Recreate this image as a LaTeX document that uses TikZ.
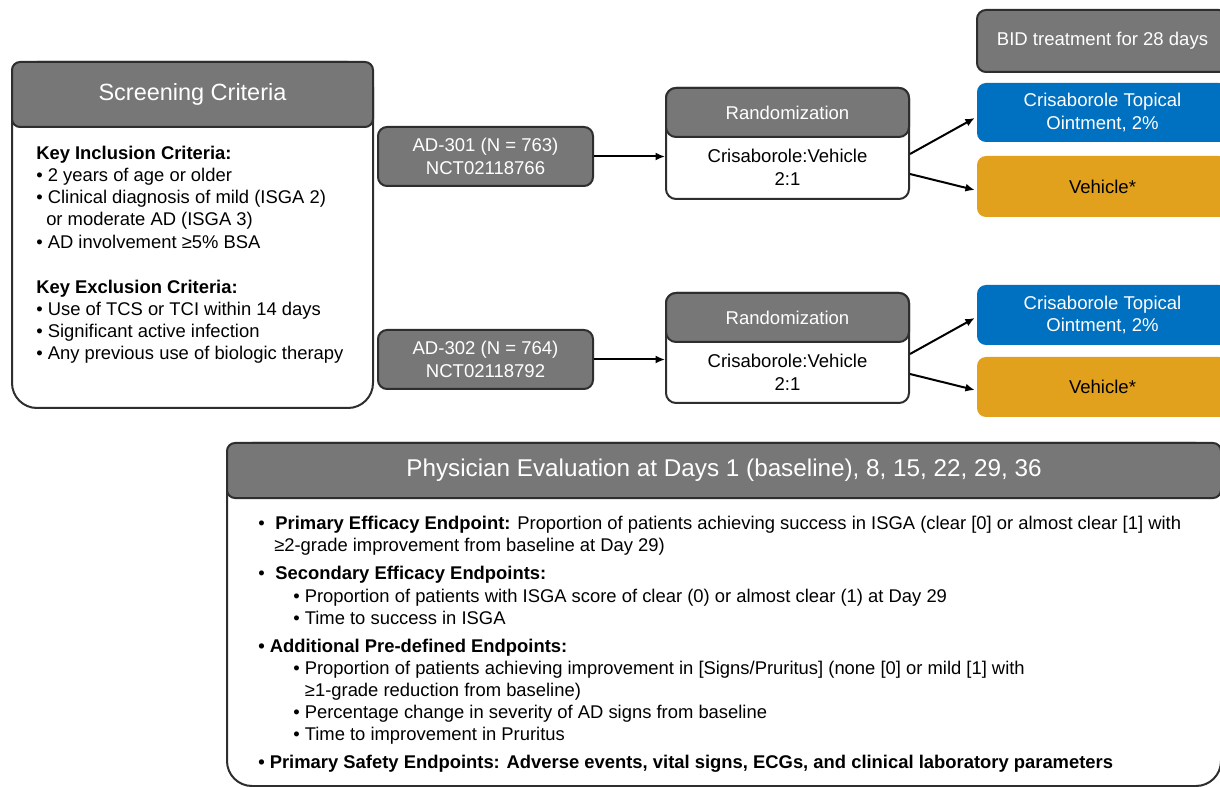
\documentclass[tikz,border=0pt]{standalone}
\usepackage{fontspec}
\setmainfont{Liberation Sans}
\usetikzlibrary{arrows.meta,calc}

% one pixel of the drawing grid
\def\px{*0.75pt}

\definecolor{hdrgray}{HTML}{777777}
\definecolor{edge}{HTML}{2E2E2E}
\definecolor{armblue}{HTML}{0070C0}
\definecolor{armgold}{HTML}{E2A11C}

\newcommand{\txtbody}{\fontsize{13.8pt}{16.6pt}\selectfont}
\newcommand{\txtmid}{\fontsize{13.9pt}{17.2pt}\selectfont}
\newcommand{\txttitle}{\fontsize{17.6pt}{21pt}\selectfont}
\newcommand{\txtbig}{\fontsize{18.2pt}{22pt}\selectfont}

\begin{document}
\begin{tikzpicture}[x=0.75pt,y=-0.75pt,
  panel/.style={draw=edge, line width=1.5pt, fill=white, rounded corners=25\px, inner sep=0pt},
  head/.style={draw=edge, line width=1.5pt, fill=hdrgray, rounded corners=8\px, text=white, inner sep=0pt, align=center},
  arm/.style={rounded corners=9\px, inner sep=0pt, align=center, font=\txtmid},
  link/.style={line width=1.5pt, -{Latex[length=7pt,width=6pt]}},
  words/.style={inner sep=0pt, align=left, anchor=north west}]
\useasboundingbox (0,0) rectangle (1220,787);

% screening criteria panel
\node[panel, minimum width=361\px, minimum height=346\px] (screen) at (192.5,235) {};
\node[head, minimum width=361\px, minimum height=65\px, font=\txttitle] (screenhead) at (192.5,94.5) {Screening Criteria};
\node[words, font=\txtbody] (incl) at (36,146) {\textbf{Key Inclusion Criteria:}\\
• 2 years of age or older\\
• Clinical diagnosis of mild (ISGA 2)\\
\hspace*{7.5pt}or moderate AD (ISGA 3)\\
• AD involvement ≥5\% BSA};
\node[words, font=\txtbody] (excl) at (36,280) {\textbf{Key Exclusion Criteria:}\\
• Use of TCS or TCI within 14 days\\
• Significant active infection\\
• Any previous use of biologic therapy};

% the two studies
\node[head, rounded corners=9\px, minimum width=215\px, minimum height=59\px, font=\txtmid] (ad1) at (485.5,156.5) {AD-301 (N = 763)\\NCT02118766};
\node[head, rounded corners=9\px, minimum width=215\px, minimum height=59\px, font=\txtmid] (ad2) at (485.5,359.5) {AD-302 (N = 764)\\NCT02118792};

% randomization boxes
\node[panel, rounded corners=10\px, minimum width=243\px, minimum height=111\px] (r1) at (787.5,143.5) {};
\node[head, rounded corners=10\px, minimum width=243\px, minimum height=49\px, font=\txtmid] (r1h) at (787.5,112.5) {Randomization};
\node[inner sep=0pt, align=center, font=\txtmid] (r1t) at (787.5,167.5) {Crisaborole:Vehicle\\2:1};

\node[panel, rounded corners=10\px, minimum width=243\px, minimum height=110\px] (r2) at (787.5,348) {};
\node[head, rounded corners=10\px, minimum width=243\px, minimum height=49\px, font=\txtmid] (r2h) at (787.5,317.5) {Randomization};
\node[inner sep=0pt, align=center, font=\txtmid] (r2t) at (787.5,372.5) {Crisaborole:Vehicle\\2:1};

% treatment arms
\node[head, rounded corners=9\px, minimum width=251\px, minimum height=62\px, font=\txtmid] (bid) at (1102.5,41) {BID treatment for 28 days};
\node[arm, fill=armblue, text=white, minimum width=251\px, minimum height=59\px] (c1) at (1102.5,112.5) {Crisaborole Topical\\Ointment, 2\%};
\node[arm, fill=armgold, minimum width=251\px, minimum height=61\px] (v1) at (1102.5,186.5) {Vehicle*};
\node[arm, fill=armblue, text=white, minimum width=251\px, minimum height=60\px] (c2) at (1102.5,315) {Crisaborole Topical\\Ointment, 2\%};
\node[arm, fill=armgold, minimum width=251\px, minimum height=60\px] (v2) at (1102.5,387) {Vehicle*};

% connectors
\draw[link] (ad1.east) -- (ad1.east -| r1.west);
\draw[link] (ad2.east) -- (ad2.east -| r2.west);
\draw[link] ($(r1.east)+(0,10.5)$) -- ($(c1.west)+(-2,5.5)$);
\draw[link] ($(r1.east)+(0,30.5)$) -- ($(v1.west)+(-2,3.5)$);
\draw[link] ($(r2.east)+(0,6)$) -- ($(c2.west)+(-2,3)$);
\draw[link] ($(r2.east)+(0,26)$) -- ($(v2.west)+(-2,3)$);

% evaluation panel
\node[panel, minimum width=994\px, minimum height=343\px] (eval) at (724,614.5) {};
\node[head, minimum width=994\px, minimum height=55\px, font=\txtbig] (evalh) at (724,470.5) {Physician Evaluation at Days 1 (baseline), 8, 15, 22, 29, 36};
\node[words, font=\txtbody] (ends) at (258,516) {•\hspace{8pt}\textbf{Primary Efficacy Endpoint:} Proportion of patients achieving success in ISGA (clear [0] or almost clear [1] with\\
\hspace*{12pt}≥2-grade improvement from baseline at Day 29)\\[4.5pt]
•\hspace{8pt}\textbf{Secondary Efficacy Endpoints:}\\
\hspace*{26.25pt}• Proportion of patients with ISGA score of clear (0) or almost clear (1) at Day 29\\
\hspace*{26.25pt}• Time to success in ISGA\\[4.5pt]
\textbf{• Additional Pre-defined Endpoints:}\\
\hspace*{26.25pt}• Proportion of patients achieving improvement in [Signs/Pruritus] (none [0] or mild [1] with\\
\hspace*{35pt}≥1-grade reduction from baseline)\\
\hspace*{26.25pt}• Percentage change in severity of AD signs from baseline\\
\hspace*{26.25pt}• Time to improvement in Pruritus\\[4.5pt]
\textbf{• Primary Safety Endpoints: Adverse events, vital signs, ECGs, and clinical laboratory parameters}};
\end{tikzpicture}
\end{document}
